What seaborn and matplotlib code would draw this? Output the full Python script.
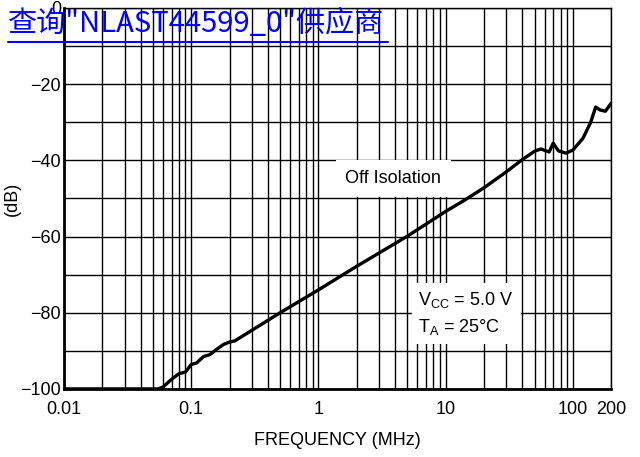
import numpy as np
import pandas as pd
import matplotlib
matplotlib.use("Agg")
import matplotlib.pyplot as plt
import seaborn as sns
from matplotlib.ticker import FixedLocator, NullFormatter, FixedFormatter
from matplotlib.lines import Line2D

# off isolation curve
freq_mhz = [0.01, 0.055, 0.06, 0.07, 0.08, 0.09, 0.1, 0.11, 0.125, 0.14, 0.16,
            0.18, 0.2, 0.22, 0.5, 1, 2, 5, 10, 14, 20, 30, 40, 50, 56, 65, 70,
            77, 88, 100, 120, 138, 151, 164, 180, 200]
isolation_db = [-100, -100, -99.5, -97.5, -96, -95.6, -93.6, -93.2, -91.5, -91,
                -89.5, -88.3, -87.7, -87.4, -80, -74, -67.8, -59.9, -53.4, -50.5,
                -47.2, -43, -39.8, -37.6, -37, -37.8, -35.5, -37.5, -38.1, -37.3,
                -34.2, -30, -26, -26.8, -27.1, -25]

x_ticks = [0.01, 0.1, 1, 10, 100, 200]
x_tick_labels = ["0.01", "0.1", "1", "10", "100", "200"]
y_ticks = [0, -20, -40, -60, -80, -100]

df = pd.DataFrame({"freq": freq_mhz, "db": isolation_db})

sns.set_style("white")
plt.rcParams["font.family"] = ["Liberation Sans", "DejaVu Sans"]
plt.rcParams["mathtext.fontset"] = "custom"
plt.rcParams["mathtext.rm"] = "Liberation Sans"
plt.rcParams["mathtext.it"] = "Liberation Sans"
plt.rcParams["text.color"] = "black"
plt.rcParams["axes.labelcolor"] = "black"
plt.rcParams["xtick.color"] = "black"
plt.rcParams["ytick.color"] = "black"

fs = 13

fig = plt.figure(figsize=(6.4, 4.57), dpi=100)
ax = fig.add_axes([0.1, 0.149, 0.855, 0.8335])

sns.lineplot(data=df, x="freq", y="db", color="black", linewidth=2.4, ax=ax)

ax.set_xscale("log")
ax.set_xlim(0.01, 200)
ax.set_ylim(-100, 0)

minor = [m * 10.0 ** e for e in range(-2, 2) for m in range(2, 10)] + [200]
ax.xaxis.set_major_locator(FixedLocator(x_ticks))
ax.xaxis.set_major_formatter(FixedFormatter(x_tick_labels))
ax.xaxis.set_minor_locator(FixedLocator(minor))
ax.xaxis.set_minor_formatter(NullFormatter())
ax.yaxis.set_major_locator(FixedLocator(y_ticks))
ax.yaxis.set_minor_locator(FixedLocator(list(range(-90, 0, 20))))
ax.set_yticklabels(["0", "\u221220", "\u221240", "\u221260", "\u221280", "\u2212100"])

ax.grid(which="both", color="black", linewidth=1.0)
ax.tick_params(which="both", length=0, labelsize=fs)
ax.tick_params(axis="x", pad=9)
ax.tick_params(axis="y", pad=2)
for side in ["top", "right"]:
    ax.spines[side].set_linewidth(1.0)
for side in ["left", "bottom"]:
    ax.spines[side].set_linewidth(2.0)
for s in ax.spines.values():
    s.set_color("black")

ax.set_xlabel("FREQUENCY (MHz)", fontsize=fs, labelpad=10)
ax.set_ylabel("(dB)", fontsize=fs, labelpad=0)

ax.text(1.63, -44.7, "Off Isolation", fontsize=fs, va="center", ha="left",
        bbox=dict(facecolor="white", edgecolor="none", boxstyle="square,pad=0.55"))
ax.text(6.1, -80.2, "V$_{\\mathrm{CC}}$ = 5.0 V\nT$_{\\mathrm{A}}$ = 25\u00b0C",
        fontsize=fs, va="center", ha="left", linespacing=1.45,
        bbox=dict(facecolor="white", edgecolor="none", pad=5))

# link-style header overlaid on the top left
fig.text(0.012, 0.948, "查询\"NLAST44599_0\"供应商", fontsize=21, color="#0000ff",
         family=["Noto Sans CJK SC", "DejaVu Sans"], va="center", ha="left")
fig.add_artist(Line2D([0.012, 0.607], [0.908, 0.908], color="#0000ff", linewidth=1.5))

fig.savefig("out.png", dpi=100)
